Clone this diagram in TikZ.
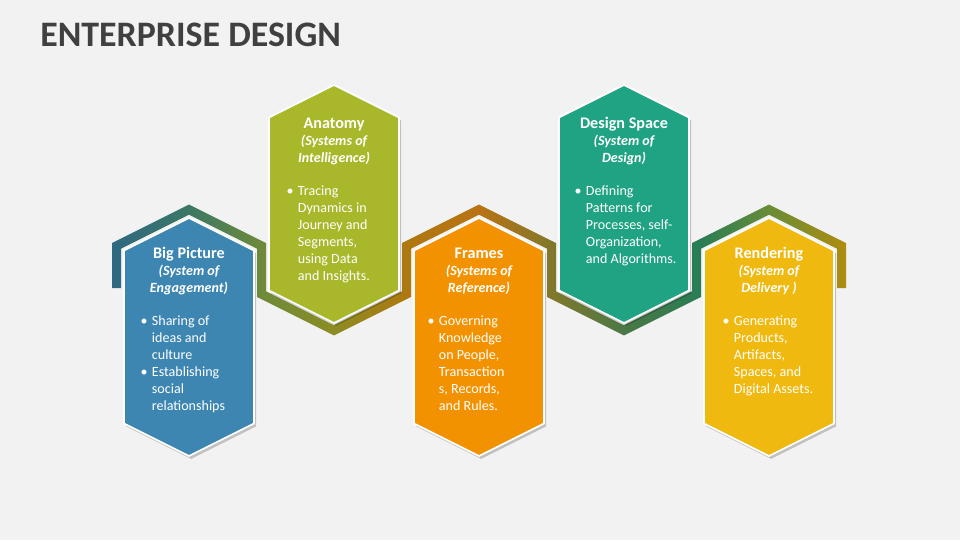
\documentclass[tikz,border=0pt]{standalone}
\usepackage{fontspec}
\setmainfont{Carlito}
\usetikzlibrary{positioning}

\definecolor{bgcol}{HTML}{F2F2F2}
\definecolor{titlecol}{HTML}{404040}
\definecolor{bigpic}{HTML}{3D86B1}
\definecolor{anatomy}{HTML}{A9B82A}
\definecolor{frames}{HTML}{F39200}
\definecolor{dspace}{HTML}{20A383}
\definecolor{render}{HTML}{EFB90F}
% ribbon colours, left to right
\definecolor{rb0}{RGB}{46,104,130}
\definecolor{rb1}{RGB}{60,120,100}
\definecolor{rb2}{RGB}{110,138,58}
\definecolor{rb3}{RGB}{140,140,35}
\definecolor{rb4}{RGB}{175,120,15}
\definecolor{rb5}{RGB}{185,115,20}
\definecolor{rb6}{RGB}{125,120,45}
\definecolor{rb7}{RGB}{75,120,70}
\definecolor{rb8}{RGB}{40,125,85}
\definecolor{rb9}{RGB}{105,140,55}
\definecolor{rb10}{RGB}{175,140,15}
\pgfdeclarehorizontalshading{ribbonshade}{100bp}{color(0bp)=(rb0); color(25bp)=(rb0);
  color(30.31bp)=(rb1); color(35.22bp)=(rb2); color(40.12bp)=(rb3); color(45.3bp)=(rb4);
  color(50bp)=(rb5); color(55.25bp)=(rb6); color(59.88bp)=(rb7); color(65.05bp)=(rb8);
  color(69.75bp)=(rb9); color(75bp)=(rb10); color(100bp)=(rb10)}

\newcommand{\hexoutline}[2]{(#1,#2) -- ++(65,32.5) -- ++(0,173) -- ++(-65,32.5) -- ++(-65,-32.5) -- ++(0,-173) -- cycle}
\newcommand{\headfont}{\fontsize{11.5}{12.1}\selectfont\bfseries\upshape}
\newcommand{\dotmark}{\hspace{1pt}\textbullet}

\begin{document}
\begin{tikzpicture}[
    x=0.025cm, y=-0.025cm,
    hexshadow/.style={fill=black, opacity=0.2, xshift=1.5pt, yshift=-2pt},
    hexcard/.style={line width=1.2pt, draw=white},
    hexhead/.style={text=white, align=center, inner sep=0pt,
        font=\fontsize{10}{12.1}\selectfont\bfseries\itshape},
    hexlist/.style={text=white, inner sep=0pt, anchor=north west,
        font=\fontsize{10}{12.1}\selectfont}
]

\fill[bgcol] (0,0) rectangle (960,540);
\useasboundingbox (0,0) rectangle (960,540);

\node[anchor=base west, inner sep=0pt, text=titlecol, font=\fontsize{25.5}{30}\selectfont\bfseries]
    (title) at (40,46) {ENTERPRISE DESIGN};

% zigzag ribbon behind the cards
\shade[shading=ribbonshade] (121,288) -- (121,248.65) -- (189,214.65) -- (257,248.65) -- (257,296.9)
    -- (334,335.4) -- (411,296.9) -- (411,248.65) -- (479,214.65) -- (547,248.65) -- (547,296.9)
    -- (624,335.4) -- (701,296.9) -- (701,248.65) -- (769,214.65) -- (837,248.65) -- (837,288)
    -- (846,288) -- (846,243.1) -- (769,204.6) -- (692,243.1) -- (692,291.35) -- (624,325.35)
    -- (556,291.35) -- (556,243.1) -- (479,204.6) -- (402,243.1) -- (402,291.35) -- (334,325.35)
    -- (266,291.35) -- (266,243.1) -- (189,204.6) -- (112,243.1) -- (112,288) -- cycle;

\foreach \cx/\ya/\col in {189/218/bigpic, 334/85/anatomy, 479/218/frames, 624/85/dspace, 769/218/render} {
    \fill[hexshadow] \hexoutline{\cx}{\ya};
    \filldraw[hexcard, fill=\col] \hexoutline{\cx}{\ya};
}

\node[hexhead] (bighead) at (189,271) {{\headfont Big Picture}\\(System of\\Engagement)};
\node[hexlist] (biglist) at (139,313) {\begin{tabular}{@{}p{9pt}@{}l@{}}
    \dotmark & Sharing of\\ & ideas and\\ & culture\\
    \dotmark & Establishing\\ & social\\ & relationships\end{tabular}};

\node[hexhead] (anahead) at (334,141) {{\headfont Anatomy}\\(Systems of\\Intelligence)};
\node[hexlist] (analist) at (285,183) {\begin{tabular}{@{}p{9pt}@{}l@{}}
    \dotmark & Tracing\\ & Dynamics in\\ & Journey and\\ & Segments,\\ & using Data\\ & and Insights.\end{tabular}};

\node[hexhead] (framehead) at (479,271) {{\headfont Frames}\\(Systems of\\Reference)};
\node[hexlist] (framelist) at (426,313) {\begin{tabular}{@{}p{9pt}@{}l@{}}
    \dotmark & Governing\\ & Knowledge\\ & on People,\\ & Transaction\\ & s, Records,\\ & and Rules.\end{tabular}};

\node[hexhead] (dsphead) at (624,141) {{\headfont Design Space}\\(System of\\Design)};
\node[hexlist] (dsplist) at (573,183) {\begin{tabular}{@{}p{9pt}@{}l@{}}
    \dotmark & Defining\\ & Patterns for\\ & Processes, self-\\ & Organization,\\ & and Algorithms.\end{tabular}};

\node[hexhead] (renhead) at (769,271) {{\headfont Rendering}\\(System of\\Delivery )};
\node[hexlist] (renlist) at (721,313) {\begin{tabular}{@{}p{9pt}@{}l@{}}
    \dotmark & Generating\\ & Products,\\ & Artifacts,\\ & Spaces, and\\ & Digital Assets.\end{tabular}};

\end{tikzpicture}
\end{document}
